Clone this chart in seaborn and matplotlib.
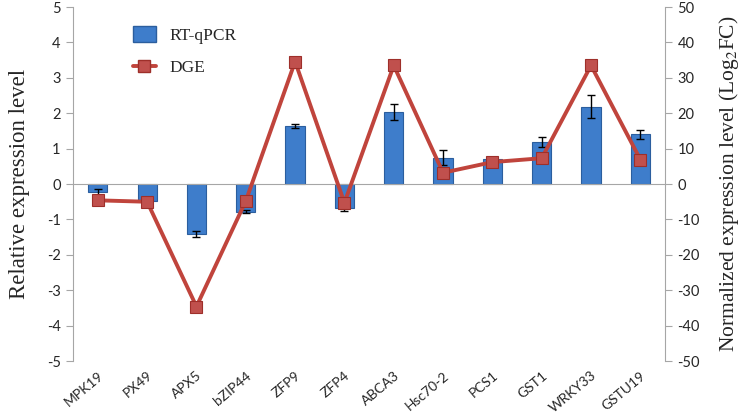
import numpy as np
import pandas as pd
import matplotlib
matplotlib.use('Agg')
import matplotlib.pyplot as plt
from matplotlib.patches import Patch
from matplotlib.lines import Line2D
import seaborn as sns

# values
genes = ['MPK19', 'PX49', 'APX5', 'bZIP44', 'ZFP9', 'ZFP4',
         'ABCA3', 'Hsc70-2', 'PCS1', 'GST1', 'WRKY33', 'GSTU19']
rtqpcr = [-0.22, -0.48, -1.42, -0.78, 1.64, -0.68,
          2.03, 0.75, 0.70, 1.18, 2.19, 1.40]
rtqpcr_err = [0.08, 0.0, 0.08, 0.05, 0.05, 0.09,
              0.23, 0.20, 0.0, 0.14, 0.32, 0.13]
dge = [-4.6, -5.0, -34.6, -4.8, 34.6, -5.3,
       33.5, 3.2, 6.2, 7.3, 33.5, 6.9]

sns.set_style('white')
plt.rcParams['font.family'] = ['Lato', 'DejaVu Sans']
plt.rcParams['mathtext.fontset'] = 'stix'
plt.rcParams['axes.unicode_minus'] = False

bar_color = '#3E7DCB'
line_color = '#C0443C'
grey = '#A6A6A6'

df = pd.DataFrame({'gene': genes, 'rtqpcr': rtqpcr, 'err': rtqpcr_err, 'dge': dge})
pos = np.arange(len(genes))

fig = plt.figure(figsize=(7.54, 4.15), dpi=100)
ax = fig.add_axes([0.097, 0.130, 0.785, 0.853])

sns.barplot(data=df, x='gene', y='rtqpcr', ax=ax, color=bar_color, width=0.39,
            edgecolor='#2B5E9E', linewidth=0.8, saturation=1, errorbar=None)
ax.errorbar(pos, df['rtqpcr'], yerr=df['err'], fmt='none', ecolor='black',
            elinewidth=1, capsize=3, capthick=1)

ax.set_xlim(-0.5, len(genes) - 0.5)
ax.set_ylim(-5, 5)
ax.set_yticks(np.arange(-5, 6, 1))
ax.set_xlabel('')
ax.set_ylabel('Relative expression level', family='Liberation Serif', fontsize=16.5, labelpad=12)

# category axis line at zero with boundary ticks, labels at the bottom
ax.spines['bottom'].set_position(('data', 0))
ax.spines['bottom'].set_color(grey)
ax.spines['top'].set_visible(False)
ax.spines['right'].set_visible(False)
ax.spines['left'].set_color(grey)
ax.set_xticks(pos)
ax.set_xticklabels([])
ax.tick_params(axis='x', which='major', length=0)
ax.set_xticks(np.arange(-0.5, len(genes), 1)[1:-1], minor=True)
ax.tick_params(axis='x', which='minor', length=5, color=grey, direction='out')
ax.tick_params(axis='y', length=5, color=grey, direction='out', labelsize=10.5, pad=4, left=True)

secx = ax.secondary_xaxis('bottom')
secx.set_xticks(pos)
secx.set_xticklabels(genes, rotation=40, ha='right', rotation_mode='anchor', fontsize=10)
secx.tick_params(length=0, pad=6)
secx.spines['bottom'].set_visible(False)

ax2 = ax.twinx()
sns.lineplot(x=pos, y=df['dge'], ax=ax2, sort=False, color=line_color, linewidth=2.8,
             marker='s', markersize=9, markerfacecolor='#C0504D',
             markeredgecolor='#9E2F2A', markeredgewidth=0.8)
ax2.set_ylim(-50, 50)
ax2.set_yticks(np.arange(-50, 51, 10))
ax2.set_ylabel('Normalized expression level (Log$_2$FC)', family='Liberation Serif',
               fontsize=15.5, labelpad=12)
for s in ['top', 'left', 'bottom']:
    ax2.spines[s].set_visible(False)
ax2.spines['right'].set_color(grey)
ax2.tick_params(axis='y', length=5, color=grey, direction='out', labelsize=10.5, pad=4, right=True)

handles = [Patch(facecolor=bar_color, edgecolor='#2B5E9E'),
           Line2D([0], [0], color=line_color, linewidth=2.8, marker='s', markersize=9,
                  markerfacecolor='#C0504D', markeredgecolor='#9E2F2A')]
ax.legend(handles, ['RT-qPCR', 'DGE'], loc='upper left', bbox_to_anchor=(0.075, 0.99),
          frameon=False, prop={'family': 'Liberation Serif', 'size': 12.5},
          handlelength=1.3, handleheight=1.0, labelspacing=0.85)

fig.savefig('out.png', dpi=100)
